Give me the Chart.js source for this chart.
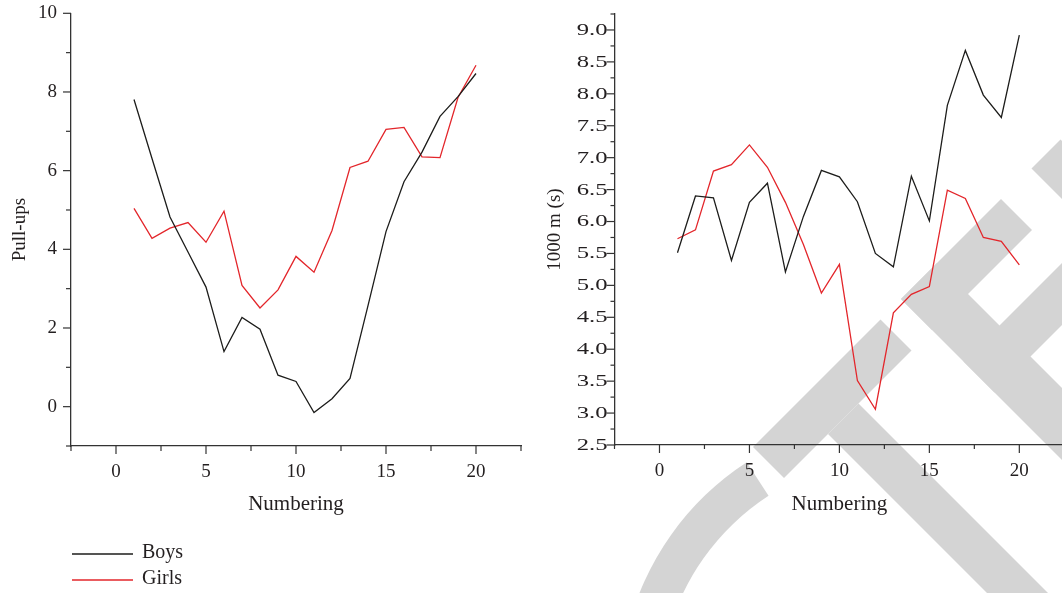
<!DOCTYPE html>
<html>
<head>
<meta charset="utf-8">
<script src="https://cdn.jsdelivr.net/npm/chart.js@4.4.1/dist/chart.umd.min.js"></script>
<style>
  html, body { margin: 0; padding: 0; background: #fff; }
  #page { position: relative; width: 1062px; height: 593px; overflow: hidden; background: #fff; }
  #bg { position: absolute; left: 0; top: 0; }
  .box { position: absolute; top: 0; width: 540px; height: 593px; }
  #leftBox { left: 0; }
  #rightBox { left: 540px; }
</style>
</head>
<body>
<div id="page">
  <canvas id="bg" width="1062" height="593"></canvas>
  <div class="box" id="leftBox"><canvas id="pullChart" width="540" height="593"></canvas></div>
  <div class="box" id="rightBox"><canvas id="runChart" width="540" height="593"></canvas></div>
</div>
<script>
// ---- data ----
const numbering = [1, 2, 3, 4, 5, 6, 7, 8, 9, 10, 11, 12, 13, 14, 15, 16, 17, 18, 19, 20];
const seriesNames = ['Boys', 'Girls'];

const pullBoys  = [7.81, 6.31, 4.82, 3.93, 3.04, 1.40, 2.27, 1.97, 0.80, 0.64,
                   -0.15, 0.20, 0.72, 2.57, 4.45, 5.72, 6.47, 7.38, 7.88, 8.47];
const pullGirls = [5.04, 4.28, 4.54, 4.68, 4.18, 4.97, 3.08, 2.51, 2.97, 3.82,
                   3.42, 4.48, 6.08, 6.24, 7.05, 7.10, 6.35, 6.33, 7.86, 8.68];

const runBoys   = [5.51, 6.40, 6.37, 5.39, 6.30, 6.60, 5.21, 6.08, 6.80, 6.70,
                   6.31, 5.50, 5.29, 6.71, 6.01, 7.82, 8.68, 7.98, 7.63, 8.92];
const runGirls  = [5.73, 5.87, 6.79, 6.89, 7.20, 6.85, 6.30, 5.64, 4.88, 5.33,
                   3.51, 3.06, 4.57, 4.86, 4.98, 6.49, 6.36, 5.75, 5.69, 5.32];

const xTickValues = [0, 5, 10, 15, 20];
const xTickLabels = ['0', '5', '10', '15', '20'];
const pullTickValues = [0, 2, 4, 6, 8, 10];
const pullTickLabels = ['0', '2', '4', '6', '8', '10'];
const runTickValues = [2.5, 3, 3.5, 4, 4.5, 5, 5.5, 6, 6.5, 7, 7.5, 8, 8.5, 9];
const runTickLabels = ['2.5', '3.0', '3.5', '4.0', '4.5', '5.0', '5.5', '6.0', '6.5', '7.0', '7.5', '8.0', '8.5', '9.0'];

// ---- style ----
const TEXT = '#231f20';
const AXIS = '#333333';
const BOYS_COLOR = '#1d1d1b';
const GIRLS_COLOR = '#e3262b';
const FONT = '"Liberation Serif", "Times New Roman", serif';

Chart.defaults.font.family = FONT;
Chart.defaults.color = TEXT;

function labelFrom(values, labels) {
  return function (v) {
    const i = values.findIndex(t => Math.abs(t - v) < 1e-6);
    return i >= 0 ? labels[i] : '';
  };
}

function isListed(values) {
  return v => values.some(t => Math.abs(t - v) < 1e-6);
}

// outward tick marks, long at labelled values and short elsewhere
function tickMarks(majorX, majorY, minorLen) {
  return {
    id: 'tickMarks',
    afterDraw(chart) {
      const ctx = chart.ctx;
      ctx.save();
      ctx.strokeStyle = AXIS;
      ctx.lineWidth = 1.2;
      const xs = chart.scales.x, ys = chart.scales.y;
      xs.ticks.forEach(t => {
        const p = xs.getPixelForValue(t.value);
        const len = majorX(t.value) ? 8 : minorLen;
        ctx.beginPath();
        ctx.moveTo(p, xs.top);
        ctx.lineTo(p, xs.top + len);
        ctx.stroke();
      });
      ys.ticks.forEach(t => {
        const p = ys.getPixelForValue(t.value);
        const len = majorY(t.value) ? 8 : minorLen;
        ctx.beginPath();
        ctx.moveTo(ys.right, p);
        ctx.lineTo(ys.right - len, p);
        ctx.stroke();
      });
      ctx.restore();
    }
  };
}

// wide-set value labels for the y axis of the running panel
const wideYLabels = {
  id: 'wideYLabels',
  afterDraw(chart) {
    const ctx = chart.ctx;
    const ys = chart.scales.y;
    ctx.save();
    ctx.fillStyle = TEXT;
    ctx.font = '17px ' + FONT;
    ctx.textAlign = 'right';
    ctx.textBaseline = 'middle';
    ys.ticks.forEach(t => {
      if (!t.label) return;
      const p = ys.getPixelForValue(t.value);
      ctx.save();
      ctx.translate(ys.right - 7, p + 0.5);
      ctx.scale(1.45, 1);
      ctx.fillText(t.label, 0, 0);
      ctx.restore();
    });
    ctx.restore();
  }
};

// stacked key under the left panel
const seriesKey = {
  id: 'seriesKey',
  afterDraw(chart) {
    const ctx = chart.ctx;
    ctx.save();
    chart.data.datasets.forEach((ds, i) => {
      const y = 554 + i * 26;
      ctx.strokeStyle = ds.borderColor;
      ctx.lineWidth = 1.3;
      ctx.beginPath();
      ctx.moveTo(72, y);
      ctx.lineTo(133, y);
      ctx.stroke();
      ctx.fillStyle = TEXT;
      ctx.font = '20px ' + FONT;
      ctx.textBaseline = 'middle';
      ctx.textAlign = 'left';
      ctx.fillText(ds.label, 142, y - 1);
    });
    ctx.restore();
  }
};

function toPoints(values) {
  return numbering.map((n, i) => ({ x: n, y: values[i] }));
}

function lineSet(label, values, color) {
  return {
    label: label,
    data: toPoints(values),
    borderColor: color,
    backgroundColor: color,
    borderWidth: 1.3,
    pointRadius: 0,
    tension: 0,
    fill: false
  };
}

function panel(canvasId, cfg) {
  return new Chart(document.getElementById(canvasId), {
    type: 'line',
    data: {
      datasets: [
        lineSet(seriesNames[0], cfg.boys, BOYS_COLOR),
        lineSet(seriesNames[1], cfg.girls, GIRLS_COLOR)
      ]
    },
    options: {
      responsive: false,
      animation: false,
      devicePixelRatio: 1,
      layout: { padding: cfg.padding },
      plugins: { legend: { display: false }, tooltip: { enabled: false } },
      scales: {
        x: {
          type: 'linear',
          min: -2.5, max: 22.5,
          grid: { display: false, drawTicks: false },
          border: { display: true, color: AXIS, width: 1.3 },
          ticks: {
            stepSize: 2.5, autoSkip: false, maxRotation: 0, padding: 15,
            font: { size: 19 }, color: TEXT,
            callback: labelFrom(xTickValues, xTickLabels)
          },
          title: { display: true, text: 'Numbering', font: { size: 21 }, color: TEXT, padding: { top: 0, bottom: 0 } },
          afterFit: s => {
            s.height = cfg.xHeight;
            s.paddingLeft = 0; s.paddingRight = 0; s.paddingTop = 0; s.paddingBottom = 0;
          }
        },
        y: {
          type: 'linear',
          min: cfg.yMin, max: cfg.yMax,
          grid: { display: false, drawTicks: false },
          border: { display: true, color: AXIS, width: 1.3 },
          ticks: {
            stepSize: cfg.yStep, autoSkip: false, padding: cfg.yPad,
            font: { size: 19 }, color: cfg.yTickColor,
            callback: labelFrom(cfg.yValues, cfg.yLabels)
          },
          title: { display: true, text: cfg.yTitle, font: { size: 19 }, color: TEXT, padding: { top: cfg.titlePad, bottom: 0 } },
          afterFit: s => {
            s.width = cfg.yWidth;
            s.paddingLeft = 0; s.paddingRight = 0; s.paddingTop = 0; s.paddingBottom = 0;
          }
        }
      }
    },
    plugins: cfg.plugins
  });
}

// ---- background lettering ----
(function () {
  const g = document.getElementById('bg').getContext('2d');
  g.fillStyle = '#ffffff';
  g.fillRect(0, 0, 1062, 593);
  g.fillStyle = '#d4d4d4';
  // strokes laid out on the 45-degree grid u = x + y, v = x - y
  function stroke(u0, u1, v0, v1) {
    const pts = [[u0, v0], [u0, v1], [u1, v1], [u1, v0]];
    g.beginPath();
    pts.forEach(([u, v], i) => {
      const x = (u + v) / 2, y = (u - v) / 2;
      if (i) g.lineTo(x, y); else g.moveTo(x, y);
    });
    g.closePath();
    g.fill();
  }
  stroke(1200, 1262, 306, 561);   // T bar
  stroke(1262, 1900, 394, 455);   // T stem
  stroke(1200, 1900, 602, 674);   // E stem
  stroke(1200, 1262, 602, 802);   // E upper arm
  stroke(1325, 1387, 602, 802);   // E middle arm
  stroke(1200, 1900, 863, 921);   // D stem
  // C bowl
  const cx = 898.7, cy = 696.2;
  g.beginPath();
  g.arc(cx, cy, 279, Math.PI * 150 / 180, Math.PI * 237 / 180);
  g.arc(cx, cy, 239, Math.PI * 237 / 180, Math.PI * 150 / 180, true);
  g.closePath();
  g.fill();
})();

// ---- panels ----
panel('pullChart', {
  boys: pullBoys, girls: pullGirls,
  yMin: -1, yMax: 10, yStep: 1,
  yValues: pullTickValues, yLabels: pullTickLabels, yTickColor: TEXT,
  yTitle: 'Pull-ups', yPad: 14, titlePad: 8.6,
  yWidth: 71, xHeight: 70.6,
  padding: { left: 0, top: 13.3, right: 19, bottom: 76.4 },
  plugins: [tickMarks(isListed(xTickValues), isListed(pullTickValues), 5), seriesKey]
});

panel('runChart', {
  boys: runBoys, girls: runGirls,
  yMin: 2.5, yMax: 9.25, yStep: 0.25,
  yValues: runTickValues, yLabels: runTickLabels, yTickColor: 'rgba(0,0,0,0)',
  yTitle: '1000 m (s)', yPad: 7, titlePad: 3.2,
  yWidth: 74.5, xHeight: 71.6,
  padding: { left: 0, top: 14, right: 15.7, bottom: 76.4 },
  plugins: [tickMarks(isListed(xTickValues), isListed(runTickValues), 4), wideYLabels]
});
</script>
</body>
</html>
